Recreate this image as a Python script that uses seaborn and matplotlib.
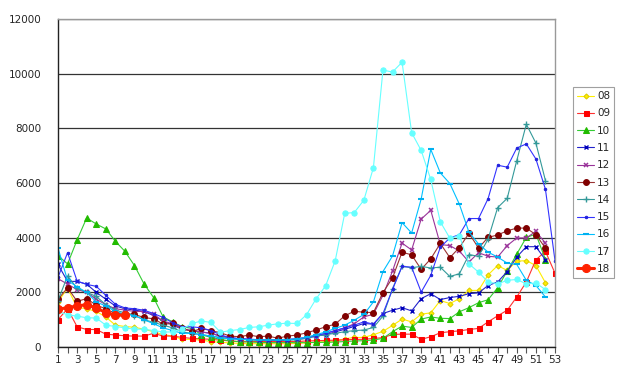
import matplotlib
matplotlib.use("Agg")
import matplotlib.pyplot as plt
import seaborn as sns
import pandas as pd

# weekly counts per year, week 1..53
weeks = list(range(1, 54))

s08 = [1650, 2150, 1450, 1400, 1300, 1100, 800, 750, 720, 650, 560, 450, 400, 280, 280,
       250, 200, 170, 150, 130, 120, 120, 120, 120, 120, 130, 150, 170, 200, 220,
       300, 350, 350, 450, 570, 790, 1020, 920, 1200, 1250, 1700, 1590, 1770, 2070, 2070,
       2640, 2980, 2800, 3140, 3160, 2980, 2350]
s09 = [1000, 1400, 740, 640, 640, 470, 440, 410, 400, 400, 500, 400, 400, 350, 315,
       300, 280, 250, 220, 200, 200, 200, 200, 200, 200, 200, 220, 230, 240, 250,
       260, 280, 280, 315, 340, 460, 470, 470, 280, 375, 520, 560, 590, 640, 680,
       920, 1140, 1345, 1830, 2380, 3190, 3500, 2700]
s10 = [3345, 3040, 3920, 4720, 4500, 4320, 3870, 3500, 2980, 2310, 1810, 1100, 920, 740, 680,
       450, 350, 280, 220, 190, 180, 170, 160, 160, 160, 160, 160, 170, 170, 180,
       200, 220, 230, 255, 315, 560, 765, 715, 1020, 1100, 1050, 1040, 1290, 1440, 1620,
       1730, 2170, 2780, 3400, 4010, 4130, 3200]
s11 = [3020, 2400, 2400, 2300, 2000, 1750, 1500, 1400, 1350, 1300, 1150, 950, 800, 650, 600,
       550, 500, 400, 350, 300, 280, 260, 250, 250, 260, 280, 320, 400, 450, 550,
       650, 750, 860, 835, 1225, 1345, 1440, 1320, 1770, 1950, 1735, 1810, 1855, 1950, 1980,
       2250, 2380, 2760, 3290, 3670, 3670, 3190]
s12 = [2500, 2300, 2100, 2000, 1750, 1550, 1400, 1350, 1300, 1300, 1200, 950, 850, 650, 600,
       550, 500, 400, 330, 300, 280, 270, 270, 270, 280, 300, 350, 420, 500, 600,
       700, 850, 1100, 1200, 1890, 2780, 3800, 3550, 4680, 5000, 3750, 3710, 3510, 3110, 3450,
       3320, 3290, 3710, 3990, 3990, 4230, 3800]
s13 = [1740, 2170, 1670, 1770, 1530, 1400, 1225, 1225, 1190, 1080, 1030, 835, 860, 700, 560,
       680, 600, 520, 400, 375, 440, 375, 400, 320, 400, 435, 520, 620, 740, 835,
       1140, 1310, 1270, 1260, 1990, 2530, 3470, 3370, 2840, 3225, 3790, 3270, 3640, 4160, 3620,
       4010, 4100, 4250, 4350, 4350, 4110, 3620]
s14 = [1700, 2600, 2150, 2000, 1850, 1550, 1350, 1250, 1150, 1000, 900, 800, 700, 550, 500,
       450, 400, 350, 300, 280, 260, 250, 240, 240, 250, 270, 320, 400, 450, 500,
       560, 600, 620, 715, 1130, 2130, 2950, 2900, 2950, 2890, 2920, 2580, 2680, 3380, 3320,
       3950, 5100, 5440, 6820, 8150, 7460, 6090]
s15 = [2550, 3450, 2410, 2290, 2220, 1890, 1565, 1430, 1400, 1345, 1225, 1080, 885, 740, 740,
       700, 600, 450, 330, 300, 280, 270, 260, 260, 270, 300, 350, 420, 500, 600,
       700, 800, 920, 835, 1225, 2110, 2950, 2920, 2010, 2620, 3650, 3990, 4110, 4700, 4700,
       5430, 6650, 6580, 7280, 7430, 6880, 5770, 3160]
s16 = [3620, 2440, 2200, 2000, 1650, 1500, 1300, 1200, 1150, 1000, 850, 700, 600, 500, 500,
       450, 400, 330, 300, 280, 270, 260, 260, 260, 270, 300, 350, 450, 550, 680,
       800, 980, 1190, 1650, 2760, 3330, 4550, 4170, 5420, 7230, 6370, 5980, 5220, 4200, 3770,
       3470, 3290, 3070, 3020, 2440, 2250, 1830]
s17 = [1300, 1180, 1130, 1070, 1060, 800, 750, 700, 650, 650, 600, 550, 550, 650, 860,
       950, 900, 540, 600, 640, 715, 740, 800, 850, 870, 860, 1180, 1760, 2240, 3150,
       4890, 4920, 5370, 6560, 10130, 10060, 10420, 7840, 7190, 6130, 4580, 3980, 4070, 3040, 2740,
       2380, 2310, 2440, 2470, 2310, 2340, 2100]
s18 = [1380, 1440, 1500, 1550, 1430, 1260, 1165, 1165]

series = [("08", s08), ("09", s09), ("10", s10), ("11", s11), ("12", s12), ("13", s13),
          ("14", s14), ("15", s15), ("16", s16), ("17", s17), ("18", s18)]

styles = {
    "08": dict(color="#FFEE00", marker="D", markersize=2.6, markerfacecolor="#FFEE00", markeredgecolor="#DDCC00", lw=0.8),
    "09": dict(color="#FF3030", marker="s", markersize=3.6, markerfacecolor="#FF0000", markeredgecolor="#FF0000", lw=0.8),
    "10": dict(color="#33CC33", marker="^", markersize=4, markerfacecolor="#22BB00", markeredgecolor="#22BB00", lw=0.8),
    "11": dict(color="#2222CC", marker="x", markersize=3.5, markeredgecolor="#0000BB", markeredgewidth=1, lw=0.8),
    "12": dict(color="#993399", marker="x", markersize=3.5, markeredgecolor="#993399", markeredgewidth=1.1, lw=0.8),
    "13": dict(color="#993333", marker="o", markersize=4.2, markerfacecolor="#800000", markeredgecolor="#800000", lw=0.8),
    "14": dict(color="#339999", marker="+", markersize=4.5, markeredgecolor="#339999", markeredgewidth=1, lw=0.8),
    "15": dict(color="#3333FF", marker=".", markersize=3.5, markerfacecolor="#2222DD", markeredgecolor="#2222DD", lw=0.8),
    "16": dict(color="#00C0FF", marker="_", markersize=4.5, markeredgecolor="#00B0F0", markeredgewidth=1.5, lw=0.8),
    "17": dict(color="#66FFFF", marker="o", markersize=3.8, markerfacecolor="#66FFFF", markeredgecolor="#66FFFF", lw=0.8),
    "18": dict(color="#FF2200", marker="o", markersize=5.8, markerfacecolor="#FF2200", markeredgecolor="#FF2200", lw=2.2),
}

sns.set_theme(style="white")
plt.rcParams['font.family'] = ['DejaVu Sans']

fig = plt.figure(figsize=(6.2, 3.84), dpi=100)
ax = fig.add_axes([58 / 620, 1 - 347 / 384, (555 - 58) / 620, (347 - 19) / 384])

for name, vals in series:
    df = pd.DataFrame({"week": weeks[:len(vals)], "value": vals})
    sns.lineplot(data=df, x="week", y="value", ax=ax, label=name, **styles[name])

ax.set_xlim(1, 53)
ax.set_ylim(0, 12000)
ax.set_yticks(range(0, 12001, 2000))
ax.set_yticklabels([str(v) for v in range(0, 12001, 2000)], fontsize=7.5)
ax.set_xticks(weeks)
ax.set_xticklabels([str(w) if w % 2 == 1 else "" for w in weeks], fontsize=7.5)
ax.tick_params(axis="x", direction="out", length=4, width=0.8, color="#555555", pad=2, bottom=True)
ax.tick_params(axis="y", length=0, pad=12)
ax.set_xlabel("")
ax.set_ylabel("")

ax.yaxis.grid(True, color="#333333", lw=0.9)
ax.set_axisbelow(True)
for side in ["left", "bottom"]:
    ax.spines[side].set_color("#222222")
    ax.spines[side].set_linewidth(1)
for side in ["top", "right"]:
    ax.spines[side].set_color("#999999")
    ax.spines[side].set_linewidth(1)

handles, labels = ax.get_legend_handles_labels()
ax.get_legend().remove()
leg = fig.legend(handles, labels, loc="upper left", bbox_to_anchor=(573 / 620, 1 - 87 / 384),
                 fontsize=7.5, frameon=True, fancybox=False, edgecolor="#888888",
                 handlelength=1.6, handletextpad=0.3, labelspacing=0.7, borderpad=0.4,
                 borderaxespad=0)
leg.get_frame().set_linewidth(0.8)

fig.savefig("out.png", dpi=100)
